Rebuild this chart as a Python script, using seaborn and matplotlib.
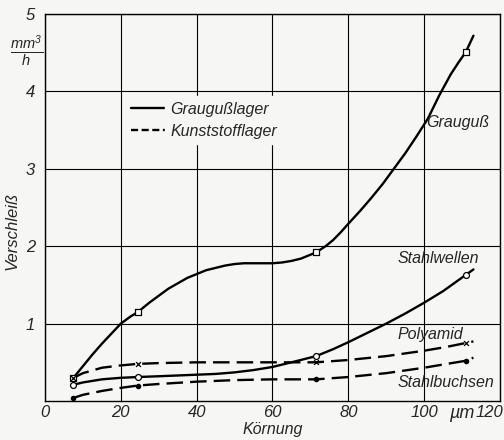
import matplotlib
matplotlib.use("Agg")
import matplotlib.pyplot as plt
import matplotlib.transforms as mtransforms
import seaborn as sns
import pandas as pd
from matplotlib.lines import Line2D

# Measured points (markers)
mx = [7.5, 24.5, 71.5, 111]
grauguss_pts = [0.30, 1.15, 1.92, 4.51]
stahlwellen_pts = [0.21, 0.31, 0.58, 1.63]
polyamid_pts = [0.30, 0.48, 0.50, 0.75]
stahlbuchsen_pts = [0.04, 0.20, 0.28, 0.52]

# Drawn curves
grauguss_cx = [7.5, 10, 12.5, 15, 17.5, 20, 22.5, 24.5, 27.5, 30, 32.5, 35, 37.5, 40, 42.5, 45, 47.5, 50,
               52.5, 55, 57.5, 60, 62.5, 65, 67.5, 70, 71.5, 74, 76, 78, 80, 83, 86, 89, 92, 95, 98, 101,
               104, 107, 109, 111, 113]
grauguss_cy = [0.30, 0.45, 0.60, 0.74, 0.87, 1.00, 1.09, 1.15, 1.27, 1.36, 1.45, 1.52, 1.59, 1.64, 1.69, 1.72,
               1.75, 1.77, 1.78, 1.78, 1.78, 1.78, 1.79, 1.81, 1.84, 1.89, 1.92, 2.00, 2.08, 2.18, 2.29, 2.45,
               2.62, 2.80, 3.00, 3.20, 3.42, 3.65, 3.95, 4.22, 4.37, 4.51, 4.72]
stahlwellen_cx = [7.5, 10, 15, 20, 24.5, 30, 35, 40, 45, 50, 55, 60, 65, 71.5, 76, 80, 85, 90, 95, 100, 105, 111, 113]
stahlwellen_cy = [0.21, 0.24, 0.28, 0.30, 0.31, 0.32, 0.33, 0.34, 0.35, 0.37, 0.40, 0.44, 0.50, 0.58, 0.67, 0.76,
                  0.88, 1.00, 1.13, 1.27, 1.42, 1.63, 1.70]
polyamid_cx = [7.5, 10, 15, 20, 24.5, 30, 40, 50, 60, 71.5, 80, 90, 100, 106, 111, 113]
polyamid_cy = [0.30, 0.36, 0.43, 0.46, 0.48, 0.49, 0.50, 0.50, 0.50, 0.50, 0.53, 0.58, 0.65, 0.70, 0.75, 0.77]
stahlbuchsen_cx = [7.5, 10, 15, 20, 24.5, 30, 40, 50, 60, 71.5, 80, 90, 100, 106, 111, 113]
stahlbuchsen_cy = [0.04, 0.08, 0.13, 0.17, 0.20, 0.22, 0.25, 0.27, 0.28, 0.28, 0.31, 0.36, 0.43, 0.48, 0.52, 0.56]

x_ticks = [0, 20, 40, 60, 80, 100, 120]
y_ticks = [1, 2, 3, 4, 5]

BG = '#f6f6f4'
sns.set_style("white")
plt.rcParams['font.family'] = ['Liberation Sans', 'DejaVu Sans']
plt.rcParams['font.style'] = 'italic'
plt.rcParams['mathtext.fontset'] = 'custom'
plt.rcParams['mathtext.it'] = 'Liberation Sans:italic'
plt.rcParams['mathtext.rm'] = 'Liberation Sans:italic'

fig = plt.figure(figsize=(5.04, 4.40), dpi=100)
fig.patch.set_facecolor(BG)
ax = fig.add_axes([0.0893, 0.0886, 0.9027, 0.8795])
ax.set_facecolor(BG)

dash = (0, (7, 3))
for cx, cy, ls in [(grauguss_cx, grauguss_cy, '-'), (stahlwellen_cx, stahlwellen_cy, '-'),
                   (polyamid_cx, polyamid_cy, dash), (stahlbuchsen_cx, stahlbuchsen_cy, dash)]:
    df = pd.DataFrame({'x': cx, 'y': cy})
    sns.lineplot(data=df, x='x', y='y', ax=ax, color='black', lw=1.7, linestyle=ls, sort=False, legend=False)

pts = pd.DataFrame({'x': mx, 'g': grauguss_pts, 's': stahlwellen_pts, 'p': polyamid_pts, 'b': stahlbuchsen_pts})
sns.scatterplot(data=pts, x='x', y='g', ax=ax, marker='s', s=16, facecolor='white', edgecolor='black', linewidth=0.9, zorder=5)
sns.scatterplot(data=pts, x='x', y='s', ax=ax, marker='o', s=18, facecolor='white', edgecolor='black', linewidth=0.9, zorder=5)
sns.scatterplot(data=pts, x='x', y='p', ax=ax, marker='x', s=12, color='black', linewidth=0.9, zorder=5)
sns.scatterplot(data=pts, x='x', y='b', ax=ax, marker='o', s=16, color='black', linewidth=0, zorder=5)

ax.set_xlim(0, 120)
ax.set_ylim(0, 5)
ax.set_xticks(x_ticks)
ax.set_yticks(y_ticks)
ax.grid(True, color='black', lw=0.8)
for sp in ax.spines.values():
    sp.set_color('black')
    sp.set_linewidth(1.0)
ax.tick_params(length=0, labelsize=12, pad=3)
ax.tick_params(axis='y', pad=7)
ax.set_xticklabels([str(t) for t in x_ticks], fontsize=12)
ax.set_yticklabels([str(t) for t in y_ticks], fontsize=12)
last = ax.get_xticklabels()[-1]
last.set_horizontalalignment('right')
last.set_transform(last.get_transform() + mtransforms.ScaledTranslation(3 / 100, 0, fig.dpi_scale_trans))
ax.set_xlabel('Körnung', fontsize=11.5, labelpad=0)
ax.xaxis.set_label_coords(0.5, -0.055)
ax.set_ylabel('Verschleiß', fontsize=12)
ax.yaxis.set_label_coords(-0.055, 0.44)

ax.text(110, -0.16, 'µm', fontsize=13, ha='center', va='center')
ax.text(-0.6, 4.52, r'$\frac{mm^3}{h}$', fontsize=15, ha='right', va='center', clip_on=False)

ax.text(100.5, 3.6, 'Grauguß', fontsize=11.5, ha='left', va='center')
ax.text(93, 1.84, 'Stahlwellen', fontsize=11.5, ha='left', va='center')
ax.text(93, 0.86, 'Polyamid', fontsize=11.5, ha='left', va='center')
ax.text(93, 0.24, 'Stahlbuchsen', fontsize=11.5, ha='left', va='center')

handles = [Line2D([], [], color='black', lw=1.7, ls='-'),
           Line2D([], [], color='black', lw=1.7, ls=(0, (3, 1.5)))]
leg = ax.legend(handles, ['Graugußlager', 'Kunststofflager'], loc='upper left',
                bbox_to_anchor=(0.175, 0.79), frameon=False, fontsize=11.5,
                handlelength=2.3, handletextpad=0.15, labelspacing=0.45, borderaxespad=0)
for t in leg.get_texts():
    t.set_backgroundcolor(BG)

fig.savefig('out.png', dpi=100, facecolor=fig.get_facecolor())
